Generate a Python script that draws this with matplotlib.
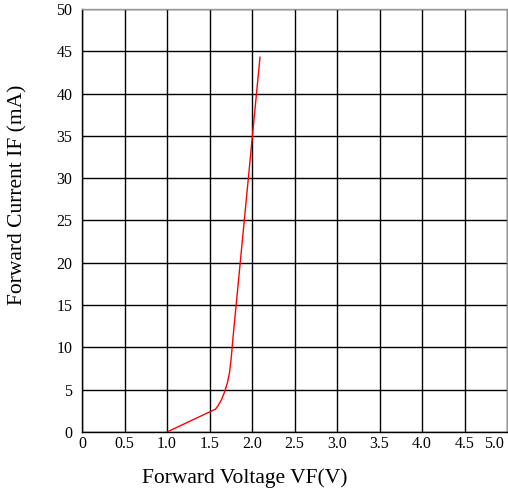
import matplotlib
matplotlib.use("Agg")
import matplotlib.pyplot as plt
import matplotlib.transforms as mtransforms

# forward voltage (V) vs forward current (mA)
vf = [1.0, 1.57, 1.60, 1.64, 1.68, 1.71, 1.735, 1.755, 1.775, 2.094]
if_ma = [0.0, 2.7, 3.1, 3.8, 4.8, 5.8, 7.0, 8.7, 11.0, 44.3]

x_ticks = [0, 0.5, 1.0, 1.5, 2.0, 2.5, 3.0, 3.5, 4.0, 4.5, 5.0]
x_labels = ["0", "0.5", "1.0", "1.5", "2.0", "2.5", "3.0", "3.5", "4.0", "4.5", "5.0"]
y_ticks = list(range(0, 51, 5))

plt.rcParams['font.family'] = ['Liberation Serif', 'DejaVu Serif']

fig = plt.figure(figsize=(5.08, 4.93), dpi=100)
ax = fig.add_axes([82 / 508, 61 / 493, 425 / 508, 423 / 493])

ax.plot(vf, if_ma, color='red', lw=1.0, zorder=3)

ax.set_xlim(0, 5.0)
ax.set_ylim(0, 50)
ax.set_xticks(x_ticks)
# last label drawn by hand, pulled left so it stays inside the figure
ax.set_xticklabels(x_labels[:-1] + [""])
ax.set_yticks(y_ticks)
ax.grid(True, color='black', lw=1.0)
ax.tick_params(length=0, labelsize=11.5)
ax.tick_params(axis='x', pad=3)
ax.tick_params(axis='y', pad=7)
trans = mtransforms.blended_transform_factory(ax.transData, ax.transAxes)
ax.text(x_ticks[-1] - 0.15, 0, x_labels[-1], transform=trans + mtransforms.ScaledTranslation(0, -3 / 72, fig.dpi_scale_trans),
        ha='center', va='top', fontsize=11.5)
for s in ax.spines.values():
    s.set_color('black')
    s.set_linewidth(1.0)
ax.spines['top'].set_color('#999999')
ax.spines['right'].set_color('#999999')

fig.text(245 / 508, 1 - 478 / 493, "Forward Voltage VF(V)", ha='center', va='center', fontsize=15.5)
fig.text(18 / 508, 1 - 195 / 493, "Forward Current IF (mA)", ha='center', va='center', fontsize=15.5, rotation=90)

fig.savefig("out.png", dpi=100)
